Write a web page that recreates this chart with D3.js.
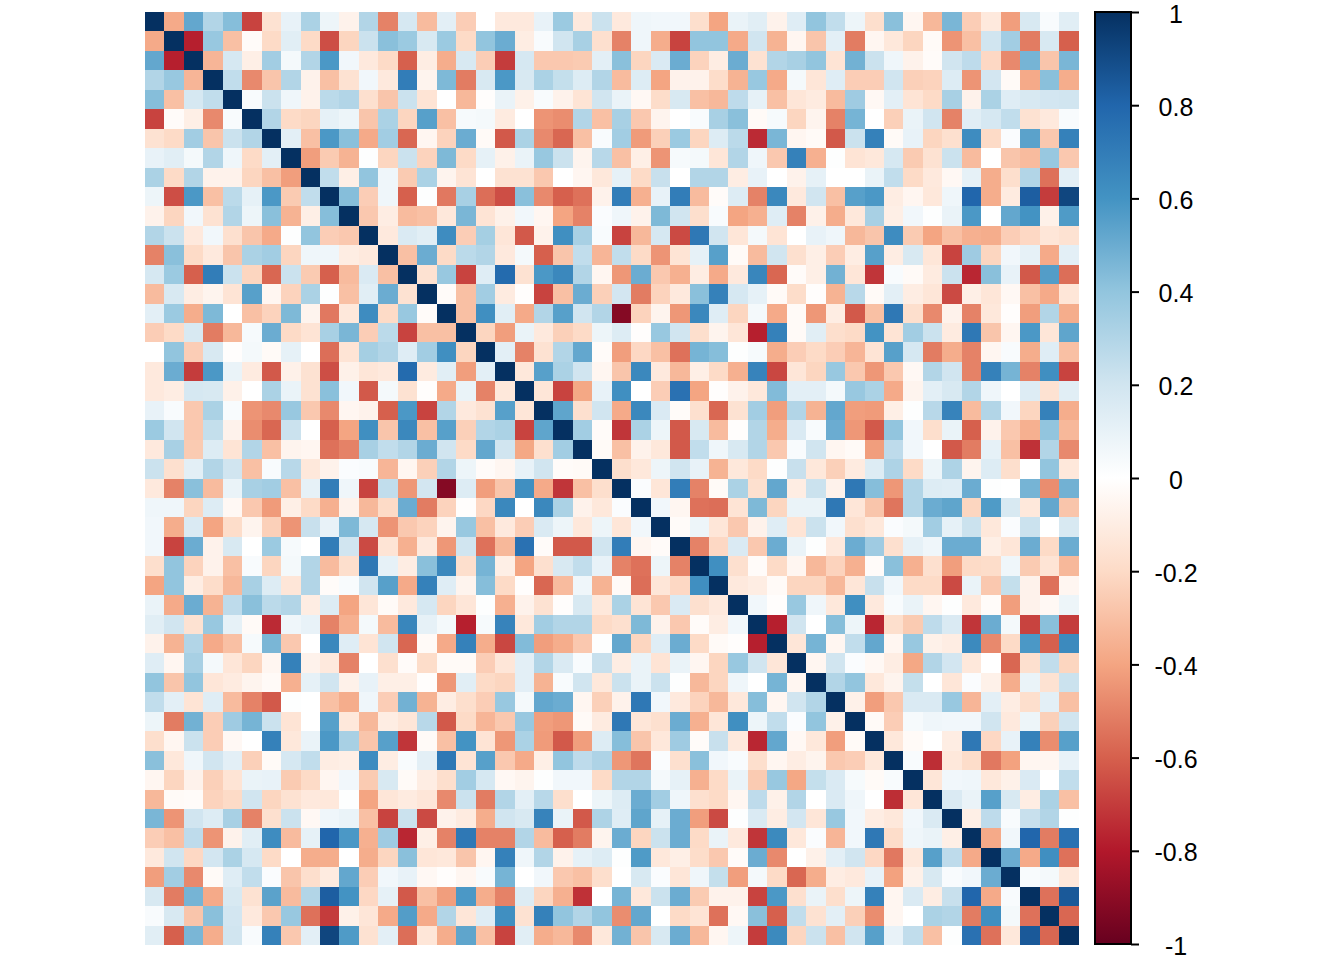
<!DOCTYPE html>
<html><head><meta charset="utf-8">
<script src="https://cdn.jsdelivr.net/npm/d3@7"></script>
<style>html,body{margin:0;padding:0;background:#fff}svg{display:block}</style>
</head><body>
<svg id="chart" width="1344" height="960"></svg>
<script>
// Upper triangle of the symmetric correlation matrix, one list per row, starting at the diagonal.
const upperTriangle = [
[1,-.38,.52,.3,.43,-.68,-.16,.1,.32,.08,-.07,.3,-.5,.18,-.32,.12,-.25,0,-.12,-.12,.1,.37,-.12,.22,-.12,.07,.06,.06,-.18,-.4,.09,.13,-.07,.14,.4,.25,.08,-.18,.42,-.05,-.33,.46,-.25,-.12,-.42,.17,.03,.13],
[1,-.78,.38,-.3,-.02,-.2,.13,-.2,-.65,-.22,.22,.42,.37,.17,.37,-.2,.4,.5,-.1,.03,.2,.33,-.17,-.5,.07,-.37,-.68,.4,.4,-.38,.2,-.35,-.05,-.28,.12,-.52,-.05,-.13,-.22,-.03,-.45,-.3,.2,.35,-.52,.17,-.6],
[1,-.34,.18,-.09,.35,.05,.3,.58,.06,-.12,-.2,-.6,-.1,-.37,.17,-.25,-.7,.18,-.27,-.27,-.26,.12,.42,-.22,.16,.5,-.23,-.1,.5,-.16,.3,.33,.4,-.15,.48,.22,.07,-.07,-.02,.2,.26,-.21,-.48,.47,-.28,.46],
[1,.25,-.48,-.28,.3,-.07,-.3,-.16,.06,-.12,.7,-.06,.45,-.52,.17,.58,.17,.32,.24,.15,.3,-.32,.15,-.4,-.07,-.07,-.19,-.35,.38,-.38,.05,-.14,.14,-.25,-.25,.2,-.24,-.23,.15,-.45,.19,-.03,-.38,.42,-.37],
[1,.03,.22,.07,-.07,.27,.3,-.17,-.28,.22,-.15,0,-.33,-.01,.09,-.08,.03,-.07,-.15,.2,.09,-.04,-.19,.17,-.3,-.33,.26,.11,-.3,-.14,-.11,-.32,.36,-.04,.12,-.15,-.2,.33,-.07,.32,.14,.17,.19,.2],
[1,.3,-.2,-.22,.11,.08,-.28,.32,-.22,.55,-.3,.04,.05,-.11,0,-.45,-.47,.3,-.3,.33,-.27,-.06,0,.03,.33,.42,-.03,.04,-.22,-.06,-.5,.47,0,-.24,.09,.2,-.5,.13,.18,.25,-.16,-.12,.03],
[1,.12,-.3,.58,.42,-.38,.35,-.58,-.05,-.23,.5,-.03,-.62,.32,-.48,-.58,-.3,.03,.35,-.43,-.24,.37,-.22,.15,.27,-.75,.46,-.05,-.03,-.62,.22,.68,-.03,.1,-.22,-.17,.63,-.2,.02,.54,-.27,.68],
[1,-.42,-.26,-.35,.01,-.22,.22,-.23,.45,-.2,.11,-.08,.09,.38,.22,-.06,.28,-.3,-.09,-.45,.04,.05,-.14,.3,.07,-.27,.68,-.36,.01,-.15,-.13,.18,-.26,-.16,.22,-.32,0,-.28,-.32,.38,-.27],
[1,.25,-.09,.4,.07,-.26,.32,-.06,-.15,0,-.16,-.16,-.27,0,-.05,-.13,.11,-.2,.23,0,.3,.3,-.1,.1,0,-.07,.11,0,0,.09,.25,-.2,-.12,-.04,.11,-.37,-.18,.3,-.55,.12],
[1,.43,-.25,.07,-.6,.01,-.53,.33,-.56,-.65,.42,-.48,-.6,-.55,-.07,.7,-.36,.1,.7,-.32,-.02,.15,-.5,.65,-.12,.2,-.3,.55,.58,-.1,-.05,-.13,.07,.8,-.37,-.11,.83,-.7,.92],
[1,-.27,-.1,-.32,-.3,-.13,.46,-.15,-.08,.06,-.05,-.4,-.5,.02,.07,-.07,.45,.2,-.18,.03,-.4,-.36,.14,-.5,-.08,-.37,-.13,.33,-.09,.06,.01,.09,.58,0,.52,.6,-.08,.57],
[1,-.12,.16,.13,.63,-.25,.34,-.14,-.62,-.07,.62,.33,.03,-.68,-.33,.18,-.66,.72,.2,-.14,.05,-.15,0,.1,.07,-.33,-.28,.63,-.26,-.4,-.3,-.36,-.37,-.25,-.21,-.14,-.16],
[1,-.3,.5,-.2,.27,.3,-.12,.05,-.6,-.28,.25,-.34,.25,-.2,-.45,-.15,.11,.55,-.03,-.32,.2,-.17,-.09,-.25,-.1,.55,-.1,.17,-.14,-.68,.36,-.22,.06,.11,-.38,.12],
[1,-.16,.38,-.68,.14,.78,-.16,.58,.65,.3,-.05,-.44,.5,-.27,-.36,-.1,-.38,-.12,.66,-.58,-.02,-.09,.48,-.14,-.72,.03,-.03,-.11,.22,-.76,.42,.1,-.62,.56,-.56],
[1,-.02,-.3,.35,-.11,-.01,-.68,-.3,.5,-.24,.19,-.52,-.23,-.12,.42,.68,.18,.11,-.03,-.19,-.01,-.35,.28,-.03,.12,-.1,-.14,-.66,-.09,-.14,-.04,-.3,-.38,-.14],
[1,-.3,.62,.13,-.38,.3,.55,.2,.3,-.92,-.23,-.06,-.44,.65,.14,-.22,.05,-.38,-.03,-.44,-.1,-.62,-.3,.72,-.18,-.48,-.07,-.5,-.13,-.01,-.42,.3,-.37],
[1,-.22,-.42,.09,-.12,-.24,-.2,.08,.15,-.01,.38,.2,-.18,-.06,-.14,-.78,.68,-.03,.13,-.18,-.2,.6,-.15,.35,.22,-.11,.72,-.28,-.05,.58,-.14,.53],
[1,.12,-.5,-.16,.3,.52,-.02,-.42,-.21,-.3,-.55,.47,.43,.01,.04,-.37,-.25,-.2,-.25,-.34,-.15,.55,.18,-.52,-.37,-.5,-.05,.03,-.37,.14,-.3],
[1,-.13,.55,.32,.2,-.05,-.28,.65,-.12,-.33,-.09,-.2,-.36,.67,-.67,-.14,-.22,.38,-.27,-.44,-.27,-.04,.3,.2,-.5,.68,.47,-.5,.62,-.68],
[1,-.14,-.68,-.39,.1,.62,0,-.25,.75,-.4,-.01,-.07,-.13,.44,.12,.12,.05,.38,.32,-.38,-.06,.12,.17,.3,.07,0,.15,-.16,.13],
[1,.53,-.17,.2,-.38,.65,.16,-.02,-.17,-.58,-.16,.35,-.42,.3,-.35,.52,-.42,-.43,-.09,.01,.28,.67,-.32,.3,.06,-.22,.68,-.37],
[1,.35,-.02,-.72,.32,.08,-.62,.17,-.32,-.01,.3,-.37,.16,.03,.5,-.44,-.62,.4,.06,-.18,.09,-.6,-.07,-.27,-.36,.4,-.33],
[1,-.03,-.3,-.07,-.13,-.62,.25,.07,.17,.3,-.27,.03,.2,-.05,-.03,-.42,.26,.06,0,-.62,-.52,.11,-.3,-.73,.3,-.48],
[1,-.18,-.13,.08,.2,.1,-.35,-.13,-.2,.01,.23,-.13,-.24,-.11,.15,.31,-.2,.08,.31,-.06,.15,-.18,0,.4,-.13],
[1,.02,-.14,.7,-.5,-.03,.32,-.17,.52,-.1,.22,-.07,.72,.43,-.44,.3,.15,.14,.5,.01,0,.47,-.47,.48],
[1,.06,-.05,-.55,-.56,-.15,.45,-.22,.09,.09,.72,-.14,-.28,-.54,.3,.5,.53,-.22,.57,.17,-.13,.52,-.28],
[1,-.02,.08,-.14,-.27,-.07,.14,-.15,.22,.06,-.17,-.13,.02,.05,.35,.11,.22,-.13,.02,.22,0,.17],
[1,-.5,-.21,.16,-.27,.5,.09,.01,-.12,.5,.36,-.17,.11,.07,.5,.5,-.09,-.14,.5,-.2,.5],
[1,.62,-.17,-.02,-.2,-.05,-.33,-.23,-.36,-.02,.42,-.36,-.17,-.42,-.2,-.19,.07,-.26,-.15,-.33],
[1,-.12,-.1,-.03,-.22,-.22,-.33,-.14,.23,.06,-.2,-.2,-.66,.09,-.27,.24,-.07,-.55,-.05],
[1,.06,-.01,.38,.07,-.13,.62,-.12,.03,.09,-.05,.01,-.12,-.02,-.42,-.07,-.04,.08],
[1,-.78,.2,0,.43,.08,-.76,-.18,-.26,.26,.16,-.72,.5,.05,-.68,.42,-.7],
[1,-.14,.47,-.05,.25,.52,-.05,.38,-.08,-.1,.64,-.48,-.2,.58,-.6,.64],
[1,-.05,.2,.02,-.04,-.1,-.39,.3,.19,-.13,0,-.58,-.17,.25,-.22],
[1,.3,.4,-.13,-.06,.24,0,-.14,.02,-.08,-.37,.09,-.16,.22],
[1,-.08,-.42,-.27,.16,.16,.38,-.34,.12,-.1,-.18,.12,-.3],
[1,-.03,-.25,.04,.07,.06,.06,.2,-.12,.08,-.24,.2],
[1,-.13,-.03,0,-.1,.72,-.21,.1,.68,-.47,.55],
[1,.03,-.74,-.13,-.19,-.53,-.41,-.05,-.05,.1],
[1,-.14,.06,.07,-.13,-.08,.16,0,.25],
[1,.16,.09,.55,.17,-.1,.32,-.3],
[1,-.09,.26,.03,.23,.3,.01],
[1,-.38,.06,.8,-.52,.75],
[1,.5,-.38,.62,-.55],
[1,.03,.05,-.13],
[1,-.55,.85],
[1,-.58],
[1]
];
const tickValues = [1,.8,.6,.4,.2,0,-.2,-.4,-.6,-.8,-1];
const paletteStops = ["#67001F","#B2182B","#D6604D","#F4A582","#FDDBC7","#FFFFFF","#D1E5F0","#92C5DE","#4393C3","#2166AC","#053061"];

const n = upperTriangle.length;
upperTriangle.forEach((r,i)=>{ if(r.length!==n-i) console.error("row "+i+" has "+r.length+" expected "+(n-i)); });
const cells = [];
for(let i=0;i<n;i++) for(let j=0;j<n;j++){
  const v = j>=i ? upperTriangle[i][j-i] : upperTriangle[j][i-j];
  cells.push({i,j,v});
}
const svg = d3.select("#chart");
const idx = d3.range(n);
const x = d3.scaleBand().domain(idx).range([145,1078.5]);
const y = d3.scaleBand().domain(idx).range([12,945]);
const color = d3.scaleLinear().domain(d3.range(-1,1.0001,.2)).range(paletteStops).interpolate(d3.interpolateRgb).clamp(true);
svg.append("g").selectAll("rect").data(cells).join("rect")
  .attr("x",d=>x(d.j)).attr("y",d=>y(d.i))
  .attr("width",x.bandwidth()).attr("height",y.bandwidth())
  .attr("fill",d=>color(d.v)).attr("shape-rendering","crispEdges");

// Colour bar
const barY = d3.scaleLinear().domain([-1,1]).range([944,12]);
const gid = "bar";
const grad = svg.append("defs").append("linearGradient").attr("id",gid)
  .attr("x1",0).attr("x2",0).attr("y1",1).attr("y2",0);
grad.selectAll("stop").data(d3.range(0,1.0001,.1)).join("stop")
  .attr("offset",d=>d).attr("stop-color",d=>color(d*2-1));
svg.append("rect").attr("x",1095).attr("y",12).attr("width",36).attr("height",932)
  .attr("fill",`url(#${gid})`).attr("stroke","#000").attr("stroke-width",2);
const axis = d3.axisRight(barY).tickValues(tickValues).tickSize(8).tickFormat(d=>String(+d.toFixed(1)));
const g = svg.append("g").attr("transform","translate(1131,0)").call(axis);
g.select(".domain").remove();
g.selectAll("line").attr("stroke","#000").attr("stroke-width",2);
g.selectAll("text").attr("x",45).attr("dy",null).attr("y",1).attr("text-anchor","middle")
  .attr("dominant-baseline","central").attr("fill","#000")
  .style("font-family","'Liberation Sans',Arial,sans-serif").style("font-size","25px");
</script>
</body></html>
